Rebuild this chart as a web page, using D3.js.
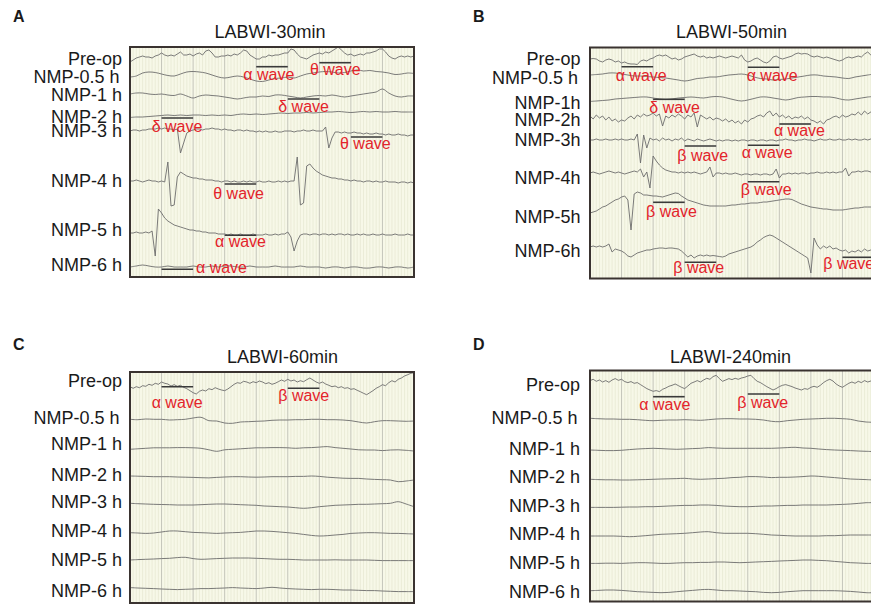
<!DOCTYPE html>
<html>
<head>
<meta charset="utf-8">
<script src="https://cdn.jsdelivr.net/npm/d3@7"></script>
<style>
  body { margin: 0; background: #fff; }
  svg { display: block; font-family: "Liberation Sans", Arial, sans-serif; }
</style>
</head>
<body>
<svg width="871" height="604"></svg>
<script>
// ---- data ----
const rowsACD = ["Pre-op", "NMP-0.5 h", "NMP-1 h", "NMP-2 h", "NMP-3 h", "NMP-4 h", "NMP-5 h", "NMP-6 h"];
const rowsB = ["Pre-op", "NMP-0.5 h", "NMP-1h", "NMP-2h", "NMP-3h", "NMP-4h", "NMP-5h", "NMP-6h"];
const titles = ["LABWI-30min", "LABWI-50min", "LABWI-60min", "LABWI-240min"];
const letters = ["A", "B", "C", "D"];
const secs = 9; // seconds shown per screen

// traces: deflection per sample (up = positive), samples evenly spread over 9 s
const tracesA = [
  [-5,-3,-1,0,1,0,0,-1,1,2,4,2,1,2,1,3,5,2,2,3,1,3,4,2,6,7,4,0,0,1,1,2,1,3,2,4,7,6,2,0,-2,-2,0,0,2,1,2,2,
   3,4,4,8,7,3,0,-1,-2,0,2,3,4,3,5,4,6,8,10,7,4,2,3,1,2,3,2,4,4,5,6,8,8,5,1,-1,-2,0,1,0,1,0,1],
  [-2,-1,2,3,2.5,1,-0.5,-1,1,3,3.5,3,2,0,-2,-3,-2,-1,-2,-4,-6,-6.5,-5,-3.5,-3,-2,-3,-1,1,2,3,3.5,3,2,2.5,4,5,4,4.5,3.5,3,2,0.5,1,2,1.5],
  [1,2,2,1,0.5,1,0,-0.5,1,-1,-3,-1,0,-0.5,-1,-2,-3,-4,-3,-2,-2,-1,-1.5,0,0,-1,-2,-3,-2,-1,-0.5,-1,0,-1,-2,-1,0,1,2,3,6,2,-1,-2,-1,-1],
  [-0.5,0,0,0.5,1,1.5,2,1.5,2,1.5,2,2,1.5,2,1.5,2,1.5,2.5,3,2.5,3,2.5,3,3.5,4,3.5,4,4,4.5,4,4.5,5,5,5.5,5,4.5,5,5.5,5,5.5,5,5,5.5,5,5,5],
  [0,1,1,0,1,1,2,2,2,3,2,3,2,2,1, 2,-22,-12,-2,0,1,
   2,2,1,2,2,3,2,2,1,2,1,1,0,1,1,0,1,0,0,-1,0,-1,0,-1,-1,0,-1,-1,0,0,0,-1,0,0,1,0,0,1,0,0,0,
   4,-17,-7,-1, -1,-2,-1,-2,-2,-1,-2,-2,-3,-2,-3,-3,-2,-3,-3,-4,-3,-4,-4,-3,-4,-4,-5,-4,-4],
  [0,0,1,0,-1,0,1,0,0,-1,0, -1,19,-25,-24,4,9,7,5,4,3,3,2,2,1,1,1,0,
   0,-1,0,0,-1,0,-1,-1,0,-1,0,-1,-1,0,-1,-1,0,-1,-1,0,-1,0,-1,0,
   0,24,-24,-22,15,17,13,10,8,6,5,4,3,3,2,2,1,1,
   0,1,0,0,-1,0,0,-1,0,-1,-1,0,-1,-1,-1,-2,-1,-1,-2,-1,-2],
  [0,0,1,0,0,1,0, 2,-23,24,20,15,12,10,8,7,6,5,4,3,3,2,2,1,1,0,0,0,-1,-1,
   -1,-2,-1,-2,-2,-1,-2,-2,-2,-1,-2,-2,-2,-1,-2,-2,-1,-2,-1,-1, 1,-4,-18,-8,-2,
   -1,-1,-2,-1,-1,-2,-1,-1,-2,-1,-2,-1,-1,-2,-1,-2,-2,-1,-2,-1,-2,-2,-1,-2,-2,-1,-2,-2,-2,-1,-2,-2,-2,-1,-2,-2],
  [0,1,2,1,0,0,1,0,0,0,1,0,0,1,0,1,1,0,0,1,0,0,0,1,0,0,0,1,0,0,0,-1,0,0,-1,0,0,-1,-1,0,0,-1,0,0,-1,0]
];

const tracesB = [
  [1,1.5,1,-1,-2,0,1,0,-2,-1,-3,-2,-3.5,-4,-4,-4.5, -1,0,-1,1,2,4,5,4,5,3,1,2,0,1,3,4,
   5,6,4,3,4,2,3,2,3,4,3,2,3,4,3,2,
   5,0,-2,-1,1,2,0,-2,-3,-1,3,4,2,1,2,3,4,6,7,6,6.5,6,4,3,4,3,2,3,2,1,0,-1,0,2,3,2,3,4,3,6,8,5,3],
  [1,1.5,2,3,3,2,1,0,0,-0.5,-1,-1.5,-2,-3,-4,-5,-4,-2.5,-2,-1,-1,0,1,1.5,2,1,-1,-2.5,-3,-4,-3.5,-3,-2,-1,0,1,1,0,-0.5,-1,-2,-2.5,-1,0,1,2],
  [-1.5,-1,-0.5,0,1,1.5,2,2.5,3,3,2,1,0.5,1,2,2.5,3,2.5,2,3,3.5,3,1.5,0,-1,0,1.5,3,3,2,1,0,1,2.5,3,3.5,3.5,3,3,2,0.5,0,1,2,3,3.5],
  [2,-1,3,0,2,-2,1,-3,-1,-4, -2,-3,0,2,-1,3,1,4,2,3, 5,2,4,-8,2,0,3,1,4,2, -1,3,1,5,-9,3,1,-1,1,-2,
   0,-1,-3,-1,-4,-2,-5,-3,-6,-2, -4,-1,0,2,3,1,5,7,2,5, 1,3,0,2,-1,1,0,2,-1,1,
   -2,-3,-5,-3,-6,-2,-1,1,2,0, 3,1,2,4,3,6,3,7,4,6, 3],
  [0,0,1,0,0,1,0,0,1,0,1,0,0,1,0, 6,-23,5,-8,2,0,
   1,-1,2,0,1,-1,1,0,2,-1,1,0,-1,1,0,-1,0,1,0,-1,
   0,-1,0,0,-1,0,-1,0,0,-1,0,0,-1,0,0,-1,0,0,-1,0,0,1,0,0,-1,0,0,1,0,0,
   -1,0,1,0,0,1,0,0,1,0,0,1,0,1,0,0,1,0,1,0],
  [0,1,0,-1,0,1,2,1,0,1,0,-1,0,1,2, 1,4,-4, 1,-15,17,12,8,5,3,2,1,1,0, 1,0,1,0,1,0,-1,0,1, 6,-4,0,
   0,-1,0,-1,-1,0,-1,-2,-1,-1,-2,-1,-1,-2,-1,-1,-2, -1,4,-5,-1,
   -1,0,-1,0,-1,0,0,-1,0,0,1,0,0,1,0,1,0,1, 1,5,-3,1, 1,2,1,2,2,1,2],
  [-3,-2,-1,1,3,4,6,8,10,11, 13,14,10,-20,16,18,17,15,15,14.5, 14,14,13.5,13,14,15,16,17,16.5,14,
   12,10,9,8,7,6,5,4.5,4,4, 4,4,4,4,4.5,5,5,5.5,6,6, 6.5,7,7,7,7.5,8,8,8.5,9,9.5,
   10,10.5,11,11,10.5,9,7.5,6,5,4, 3,2.5,2,1.5,1,1,0.5,0,0,0, 0,0.5,1,1.5,2,2,2.5,3,3,3, 3],
  [1,2,1,2,1,2,4,-4,-1,-2, -3,-5,-8,-9,-7,-5,-4,-3,-2,-2, -1,-0.5,0,0,-0.5,0,0,-0.5,-1,-3,
   -6,-9,-7,-10,-8,-7,-8,-7,-8,-7.5, -8,-8.5,-9,-8,-6,-5,-4,-3,-2,-1, 0,1,3,6,8,10.5,12,13,12,10,
   8,6,4,2,0,-2,-4,-6,-8,-10, -25,10,3,-1,2,0,2,-1,0,-2, -3,-2,-5,-3,-4,-2,-4,-1,-3,-2, -3]
];

const tracesC = [
  [1.3,-0.3,1.3,0.3,2.3,1.7,3.7,2.7,4.7,3.7, 6,4.7,4,2,3.3,1.7,2.7,0.7,-0.7,-2.7,
   -4.7,-6,-3.3,-2,-3,-0.7,-1.7,0.3,-1,-2, -2.7,-1,1.3,3.7,5.3,4.7,6.7,6,4.7,6.3,
   5.3,7,6,4.3,5.3,3.7,4.7,6.3,8,6.7, 8.7,7,8,6,7.3,6.3,8.3,10,8,6,
   4.7,6,4,2.7,1.3,2,0.3,1.3,-0.3,0.3, -1.3,-0.7,-2.3,-3.7,-5.3,-6.7,-4.7,-2.7,-0.3,1.3,
   3.3,2.3,5.3,7.3,6,8.7,10,12,13.3,14.7, 15.3],
  [0.7,0.3,1,0.7,0.7,0,0.3,0.7,2,2.7,-0.7,-1,-3,-3.3,-2,-1.7,-1.3,-1,-0.3,0,0,0.3,0.3,0.7,0.7,0.3,0.3,0,-0.7,-2,-3,-1.7,-0.7,-0.7,-1,-1.3,-1],
  [-1,-0.5,0,0.5,0.5,0.5,0.7,0.7,0.5,0,-1.5,-3,-1.5,-1,-0.5,0,0.5,0.5,0.7,0.7,0.5,0,0.5,0.7,1.2,1.7,0.7,0,-0.7,-1.5,-1.7,-1.7,-2.3,-1.7,-1.5,-2,-2.7],
  [0.7,0.5,0.3,0,0,0,-0.3,-0.5,-0.7,-1,-1.2,-0.7,-0.3,0,0,-0.3,-0.5,-0.3,0,0,0,0.3,0.3,0.7,0.3,-0.5,-1,-1.5,-1.7,-1.7,-2.3,-2.7,-3,-3.3,-5,-4.3,-3.3],
  [0.7,0.3,0,-0.3,-0.5,-0.7,-1,-1,-1,-0.7,-0.3,0,0,-0.3,-0.7,-1,-1.3,-2,-2.3,-2.7,-3,-3.7,-4.3,-3.7,-2.7,-2,-1.3,-1,-0.7,-0.3,-0.3,0,0.3,0.7,2.3,0,-2.7],
  [0,-0.3,-0.7,-0.3,0.7,1.7,1.7,1,0.3,0,-0.3,-0.7,-0.3,0,0.3,1,1.7,1.7,1.3,0.7,0,-0.7,-1.7,-2.7,-3.3,-3,-2.3,-1.7,-0.7,-0.3,0,0,-0.3,-0.7,-0.7,-1,-1.3],
  [-0.7,-0.3,0,0.3,0.7,1,1.7,2,0.7,0,0.3,0.7,1,1.3,1.3,1.3,1,0.7,0.3,0,0,-0.3,-0.7,-0.7,-0.7,-0.7,-0.5,-0.7,-0.7,-0.7,-0.7,-1,-1.3,-1.3,-1.3,-1.3,-1.3],
  [1.7,1.3,1,0.7,0.3,0,-0.3,0,0.3,0.7,0.7,1,1.3,1.7,1.3,1,0.7,1.3,2,1.3,0.7,0.3,0,-0.3,0,0,-0.3,-0.7,-0.7,-1,-1.3,-1.3,-1.7,-2,-2.3,-2.3,-2.3]
];

const tracesD = [
  [2.7,4,2,3.3,1.3,2.7,1,3.3,4.7,3, 4,1.7,0.7,1.7,0,0.7,-1.3,-3.3,-5.3,-6.7,
   -8,-7.3,-8.3,-6,-4.7,-3,-2,-0.7,-2.3,-4, -5.3,-2.7,0,1.3,2.7,1.3,3.3,5,4,6.7,
   8,4.7,2,3.3,4.7,3.7,5,4,5.3,6, 7.3,8,4.7,2,0.7,-1.3,-3.3,-5,-6.7,-5.3,
   -3.3,-2,-1.3,-2.3,-3.3,-4.7,-5.7,-6.7,-5.3,-6, -4,-3,-4,-2,0.7,2.7,4,2.3,-0.7,-2.7,
   -4,-2,0,1.3,0,2,0.7,2.7,1.3,2.3, 1.7],
  [0.7,0.3,0,0,-0.3,-0.3,-0.7,-1.3,-1.7,-1.3,-1,-1,-0.7,-1,-1.3,-0.7,0,0.3,0.3,0,0,-0.3,-1,-2.3,-2.7,-1.7,-1,-0.3,0,0.3,0.7,0.7,0.3,-0.3,-2,-3,-3.3],
  [-0.7,-1,-1.3,-1.3,-1,-0.3,0.3,0.7,1,0.7,0.3,0,0.3,0.7,1,1.7,1.3,1,1,1,1,1,1,1,1.3,1.7,2,1.3,1,0.3,-0.3,-0.7,-1,-1.3,-1.7,-2,-2.3],
  [-1,-1.3,-1.5,-1.5,-1.7,-1.7,-1.5,-1.3,-1,-0.7,-0.5,-0.3,0,-0.7,-1,-0.7,-0.3,0,0.7,1,1.7,1.7,1.3,0.7,1,1,1.3,1.7,2.3,2,1.3,0.7,0,-0.7,-1,-1.3,-1.7],
  [-0.7,-0.7,-0.7,-0.7,-0.5,-0.3,-0.3,0,0,0.3,0.7,1,1.3,1.3,1.7,1.7,1.3,0.7,0.3,0,0,0.3,0.7,0.7,1,1.3,1.3,1.7,1.7,1.7,1.7,2,2.3,2.7,3.3,4,4],
  [-1,-1,-1,-1,-1.3,-1.7,-1.3,-0.7,0,0.7,1,1.3,1.7,2.3,3,3.3,2.3,1.7,1.7,1.7,1.7,1.3,0.7,0,-0.3,-0.7,-1,-1,-1,-1,-0.7,-0.7,-0.3,0,0,0,0],
  [-0.7,-0.7,-0.5,-0.5,-0.7,-0.3,0,0,-0.3,-0.7,-0.7,-0.3,0,0,0.3,0.3,0.7,0.7,0.3,0,0.3,0.7,1,1.3,1.7,2,2.3,2.7,2.7,2.3,2,1.3,0.7,0,-0.3,-0.7,-0.7],
  [0,0.3,0.7,0.7,0.3,-0.3,-1,-1.3,-1.7,-2,-1.7,-1,-0.3,0.3,1,1.3,0.7,0,0,-0.3,-0.7,-1,-1.7,-2,-1.7,-1,-0.5,0,0,0,0,0,-0.3,-0.7,-1.3,-2,-2]
];

// marked wave segments: band and time span (s)
const wavesA = [
  {band: "α", t0: 4, t1: 5}, {band: "θ", t0: 6, t1: 7}, {band: "δ", t0: 5, t1: 6},
  {band: "δ", t0: 1, t1: 2}, {band: "θ", t0: 7, t1: 8}, {band: "θ", t0: 3, t1: 4},
  {band: "α", t0: 3, t1: 4}, {band: "α", t0: 1, t1: 2}
];
const wavesB = [
  {band: "α", t0: 1, t1: 2}, {band: "α", t0: 5, t1: 6}, {band: "δ", t0: 2, t1: 3},
  {band: "α", t0: 6, t1: 7}, {band: "β", t0: 3, t1: 4}, {band: "α", t0: 5, t1: 6},
  {band: "β", t0: 5, t1: 6}, {band: "β", t0: 2, t1: 3}, {band: "β", t0: 3, t1: 4},
  {band: "β", t0: 8, t1: 9}
];
const wavesC = [{band: "α", t0: 1, t1: 2}, {band: "β", t0: 5, t1: 6}];
const wavesD = [{band: "α", t0: 2, t1: 3}, {band: "β", t0: 5, t1: 6}];

// ---- layout (pixels) ----
const frameW = 284;
const panels = [
  {x0: 130, top: 47, bottom: 277, labelX: 122, titleX: 270, titleY: 37.5, letterX: 13, letterY: 22,
   rows: rowsACD, traces: tracesA, waves: wavesA,
   rowY: [57, 75, 95, 117, 131, 181, 233, 267],
   labelY: [65, 82.7, 100.7, 123.3, 136.7, 187.3, 236, 270.7],
   waveYX: [[66.7,-12.9,13.3],[62.7,-9.4,12.3],[99,-9.5,12.7],[118,-9.9,13.7],[137,-10.9,12.3],[184,-11.4,15],[235.3,-9.7,11.3],[269.3,34.4,3.4]]},
  {x0: 590, top: 47.5, bottom: 278.5, labelX: 580.5, titleX: 731.5, titleY: 37.5, letterX: 473, letterY: 22,
   rows: rowsB, traces: tracesB, waves: wavesB,
   rowY: [60, 76, 100, 118, 140, 173, 210, 248],
   labelY: [65, 84, 109, 126, 145.7, 184, 223.3, 257.3],
   waveYX: [[66.7,-5.9,14.3],[67.3,-1.1,13.7],[99.3,-3.8,14],[124,-5.4,12],[146,-7.4,14.7],[145.3,-6.1,13],[181.7,-7.1,13.3],[202.3,-7.1,14.3],[262.3,-11.4,10.3],[257.3,-19.2,12]]},
  {x0: 130, top: 372, bottom: 603, labelX: 122, titleX: 282.5, titleY: 363.3, letterX: 13, letterY: 350,
   rows: rowsACD, traces: tracesC, waves: wavesC,
   rowY: [388, 420, 448.3, 476.7, 504, 532.7, 559.3, 589.3],
   labelY: [386.7, 424.3, 450, 480.7, 508.3, 537.3, 566, 596.7],
   waveYX: [[386.7,-9.9,21.7],[388.3,-9.5,12.7]]},
  {x0: 590, top: 370.5, bottom: 601.5, labelX: 580, titleX: 730.5, titleY: 362.7, letterX: 473, letterY: 350,
   rows: rowsACD, traces: tracesD, waves: wavesD,
   rowY: [383.3, 419, 449.3, 478.3, 506.7, 535, 562.7, 590.7],
   labelY: [391, 424, 455, 483.3, 511.7, 540, 569.3, 598.3],
   waveYX: [[396.7,-13.8,13.3],[394,-10.5,14.3]]}
];

const svg = d3.select("svg");
const defs = svg.append("defs");

panels.forEach((p, k) => {
  const g = svg.append("g");
  const x = d3.scaleLinear().domain([0, secs]).range([p.x0, p.x0 + frameW]);
  const amp = d3.scaleLinear().domain([0, 1]).range([0, -1]); // 1 unit = 1 px up

  defs.append("clipPath").attr("id", "clip" + k)
    .append("rect").attr("x", p.x0).attr("y", p.top)
    .attr("width", frameW).attr("height", p.bottom - p.top);

  // paper
  g.append("rect").attr("x", p.x0).attr("y", p.top)
    .attr("width", frameW).attr("height", p.bottom - p.top)
    .attr("fill", "#f7f8e8");

  // time grid
  g.append("g").selectAll("line")
    .data(d3.range(1, secs * 10))
    .join("line")
    .attr("x1", d => x(d / 10)).attr("x2", d => x(d / 10))
    .attr("y1", p.top).attr("y2", p.bottom)
    .attr("stroke", d => d % 10 === 0 ? "#c4c5ba" : "#e7e9d3")
    .attr("stroke-width", d => d % 10 === 0 ? 1 : 0.8);

  // traces
  const tg = g.append("g").attr("clip-path", `url(#clip${k})`);
  p.traces.forEach((vals, r) => {
    const t = d3.scaleLinear().domain([0, vals.length - 1]).range([0, secs]);
    const line = d3.line()
      .x((d, i) => x(t(i)))
      .y(d => p.rowY[r] + amp(d))
      .curve(vals.length > 60 ? d3.curveLinear : d3.curveCatmullRom);
    tg.append("path").attr("d", line(vals))
      .attr("fill", "none").attr("stroke", "#6c6c6c")
      .attr("stroke-width", 0.9).attr("stroke-linejoin", "round");
  });

  // wave markers
  p.waves.forEach((w, i) => {
    const [by, dx, dy] = p.waveYX[i];
    g.append("line")
      .attr("x1", x(w.t0)).attr("x2", x(w.t1))
      .attr("y1", by).attr("y2", by)
      .attr("stroke", "#3a3a3a").attr("stroke-width", 1.6);
    g.append("text")
      .attr("x", x(w.t0) + dx).attr("y", by + dy)
      .attr("font-size", 16).attr("fill", "#e3242b")
      .text(w.band + " wave");
  });

  // frame
  g.append("rect").attr("x", p.x0).attr("y", p.top)
    .attr("width", frameW).attr("height", p.bottom - p.top)
    .attr("fill", "none").attr("stroke", "#3a3330").attr("stroke-width", 2);

  // row labels
  g.append("g").selectAll("text")
    .data(p.rows)
    .join("text")
    .attr("x", p.labelX)
    .attr("dx", d => d === "NMP-0.5 h" ? -2.4 : 0)
    .attr("y", (d, i) => p.labelY[i])
    .attr("text-anchor", "end")
    .attr("font-size", 18).attr("fill", "#1a1a1a")
    .text(d => d);

  // title and panel letter
  g.append("text").attr("x", p.titleX).attr("y", p.titleY)
    .attr("text-anchor", "middle").attr("font-size", 18).attr("fill", "#1a1a1a")
    .text(titles[k]);
  g.append("text").attr("x", p.letterX).attr("y", p.letterY)
    .attr("font-size", 16).attr("font-weight", "bold").attr("fill", "#1a1a1a")
    .text(letters[k]);
});
</script>
</body>
</html>
